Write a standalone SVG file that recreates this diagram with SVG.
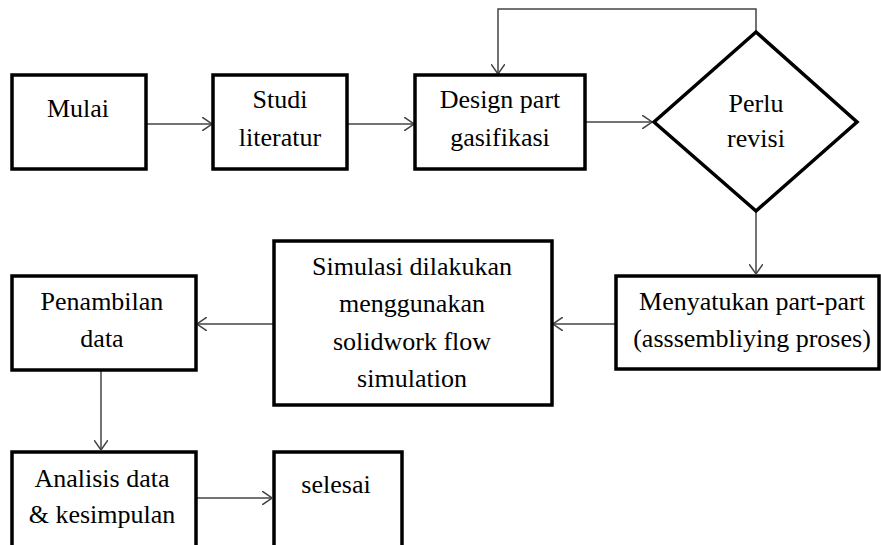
<svg xmlns="http://www.w3.org/2000/svg" width="881" height="545" viewBox="0 0 881 545">
<style>
.box{fill:#fff;stroke:#000;stroke-width:3.5}
.t{font-family:"Liberation Serif","Times New Roman",serif;font-size:26px;fill:#000;text-anchor:middle}
.c{fill:none;stroke:#444;stroke-width:1.5}
</style>
<defs>
<marker id="ah" viewBox="0 0 10 14" refX="10" refY="7" markerWidth="10" markerHeight="14" markerUnits="userSpaceOnUse" orient="auto">
<path d="M0,0 L10,7 L0,14" fill="none" stroke="#444" stroke-width="1.5"/>
</marker>
</defs>
<rect width="881" height="545" fill="#fff"/>
<g id="connectors">
<line class="c" x1="146" y1="124" x2="212" y2="124" marker-end="url(#ah)"/>
<line class="c" x1="347" y1="124" x2="414" y2="124" marker-end="url(#ah)"/>
<line class="c" x1="586" y1="122" x2="652" y2="122" marker-end="url(#ah)"/>
<polyline class="c" points="756,32 756,9 498,9 498,74" marker-end="url(#ah)"/>
<line class="c" x1="756" y1="211" x2="756" y2="274" marker-end="url(#ah)"/>
<line class="c" x1="615" y1="324" x2="553" y2="324" marker-end="url(#ah)"/>
<line class="c" x1="273" y1="324" x2="197" y2="324" marker-end="url(#ah)"/>
<line class="c" x1="101" y1="370" x2="101" y2="450" marker-end="url(#ah)"/>
<line class="c" x1="196" y1="498" x2="272" y2="498" marker-end="url(#ah)"/>
</g>
<g id="mulai"><rect class="box" x="12" y="75" width="134" height="94"/><text class="t" x="78" y="117">Mulai</text></g>
<g id="studi"><rect class="box" x="213" y="75" width="134" height="94"/><text class="t" x="280" y="108">Studi</text><text class="t" x="280" y="146">literatur</text></g>
<g id="design"><rect class="box" x="415" y="75" width="170" height="94"/><text class="t" x="500" y="108">Design part</text><text class="t" x="500" y="146">gasifikasi</text></g>
<g id="perlu"><polygon class="box" points="756,32 857,122 756,211 654,122"/><text class="t" x="756" y="112">Perlu</text><text class="t" x="756" y="147">revisi</text></g>
<g id="menyatukan"><rect class="box" x="616" y="276" width="263" height="93"/><text class="t" x="752" y="310">Menyatukan part-part</text><text class="t" x="752" y="347">(asssembliying proses)</text></g>
<g id="simulasi"><rect class="box" x="274" y="241" width="278" height="164"/><text class="t" x="412" y="275">Simulasi dilakukan</text><text class="t" x="412" y="312">menggunakan</text><text class="t" x="412" y="350">solidwork flow</text><text class="t" x="412" y="387">simulation</text></g>
<g id="penambilan"><rect class="box" x="12" y="276" width="184" height="94"/><text class="t" x="102" y="310">Penambilan</text><text class="t" x="102" y="347">data</text></g>
<g id="analisis"><rect class="box" x="12" y="452" width="184" height="110"/><text class="t" x="102" y="487">Analisis data</text><text class="t" x="102" y="523">&amp; kesimpulan</text></g>
<g id="selesai"><rect class="box" x="274" y="452" width="128" height="110"/><text class="t" x="336" y="493">selesai</text></g>
</svg>
